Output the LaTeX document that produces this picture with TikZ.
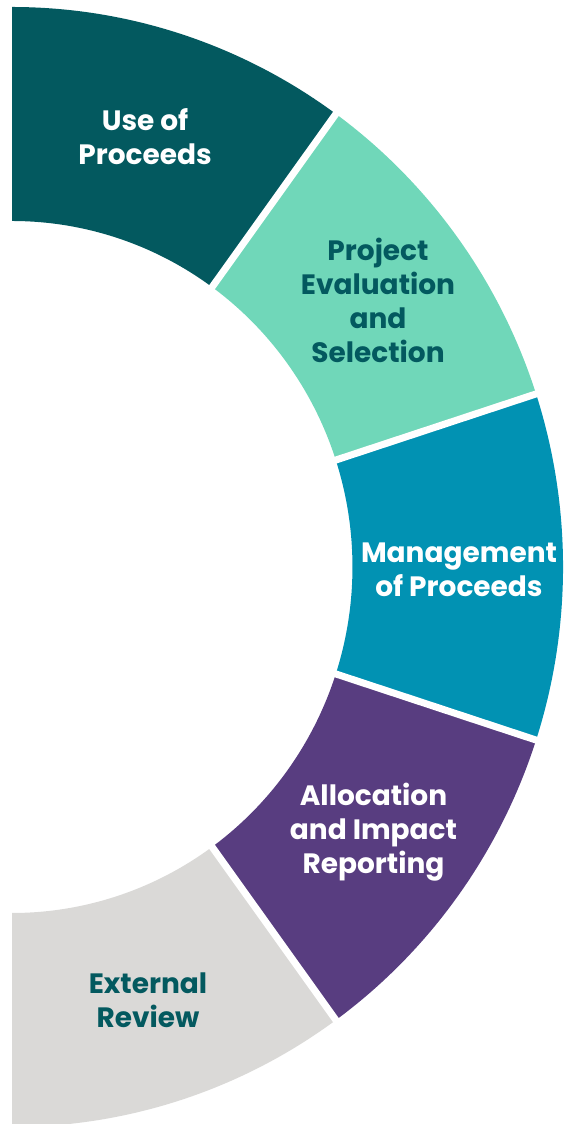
\documentclass[tikz,border=0pt]{standalone}
\usepackage{fontspec}
\setmainfont{Poppins}
\definecolor{cteal}{HTML}{03595F}
\definecolor{cmint}{HTML}{70D7B9}
\definecolor{cblue}{HTML}{0192B3}
\definecolor{cpurple}{HTML}{583D80}
\definecolor{cgrey}{HTML}{DAD9D7}
\tikzset{
  lbl/.style={align=center, font=\bfseries\fontsize{28}{34}\selectfont, inner sep=0pt},
  gapline/.style={draw=white, line width=7pt}
}
\newcommand{\seg}[3]{%
  \fill[#1] (#2:560) arc[start angle=#2, end angle=#3, radius=560]
    -- (#3:346) arc[start angle=#3, end angle=#2, radius=346] -- cycle;}
\begin{document}
\begin{tikzpicture}[x=1pt,y=1pt]
\useasboundingbox (0,0) rectangle (565,1124);
\begin{scope}[shift={(12,557)}, xscale=0.984]
  \seg{cteal}{90}{54}
  \seg{cmint}{54}{18}
  \seg{cblue}{18}{-18}
  \seg{cpurple}{-18}{-54}
  \seg{cgrey}{-54}{-90}
  \coordinate (g1a) at (54:330); \coordinate (g1b) at (54:575);
  \coordinate (g2a) at (18:330); \coordinate (g2b) at (18:575);
  \coordinate (g3a) at (-18:330); \coordinate (g3b) at (-18:575);
  \coordinate (g4a) at (-54:330); \coordinate (g4b) at (-54:575);
  \draw[gapline] (g1a) -- (g1b);
  \draw[gapline] (g2a) -- (g2b);
  \draw[gapline] (g3a) -- (g3b);
  \draw[gapline] (g4a) -- (g4b);
\end{scope}
\node[lbl, text=white] (n1) at (145,987) {Use of\\Proceeds};
\node[lbl, text=cteal] (n2) at (378,824) {Project\\Evaluation\\and\\Selection};
\node[lbl, text=white] (n3) at (459,554) {Management\\of Proceeds};
\node[lbl, text=white] (n4) at (373.5,292) {Allocation\\and Impact\\Reporting};
\node[lbl, text=cteal] (n5) at (148,124) {External\\Review};
\end{tikzpicture}
\end{document}
